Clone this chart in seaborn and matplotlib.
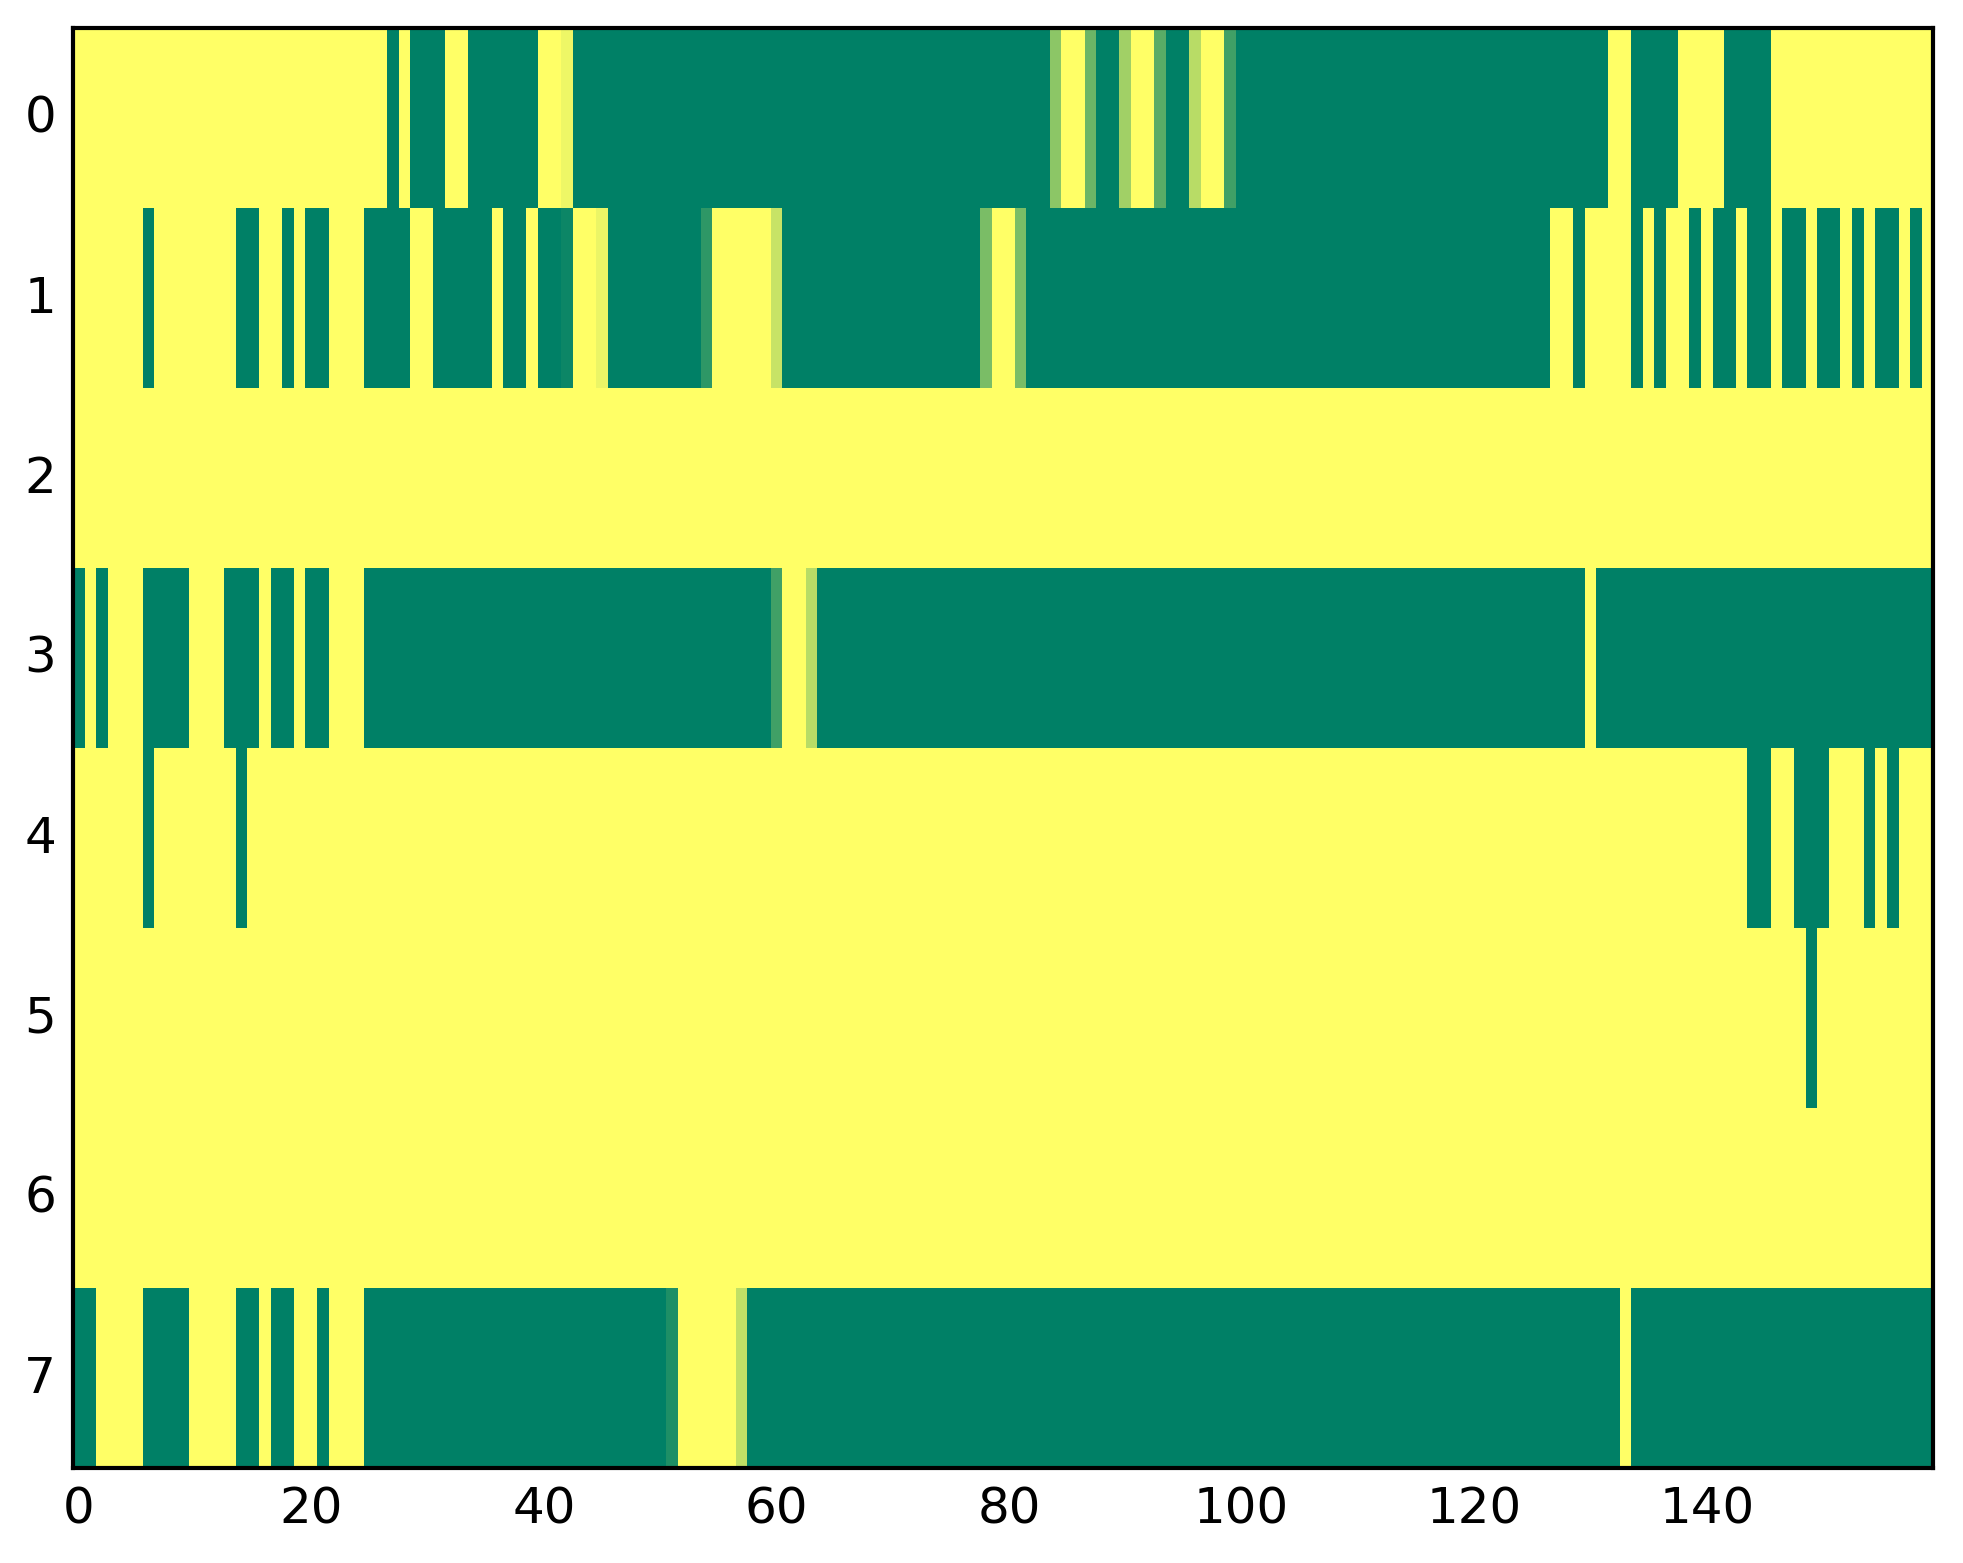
import pandas as pd
import seaborn as sns
import matplotlib.pyplot as plt

# values, 160 columns per row (0 = green, 1 = yellow)
row_0 = [1, 1, 1, 1, 1, 1, 1, 1, 1, 1, 1, 1, 1, 1, 1, 1, 1, 1, 1, 1,
         1, 1, 1, 1, 1, 1, 1, 0, 1, 0, 0, 0, 1, 1, 0, 0, 0, 0, 0, 0,
         1, 1, .93, 0, 0, 0, 0, 0, 0, 0, 0, 0, 0, 0, 0, 0, 0, 0, 0, 0,
         0, 0, 0, 0, 0, 0, 0, 0, 0, 0, 0, 0, 0, 0, 0, 0, 0, 0, 0, 0,
         0, 0, 0, 0, .55, 1, 1, .42, 0, 0, .63, 1, 1, .35, 0, 0, .72, 1, 1, .25,
         0, 0, 0, 0, 0, 0, 0, 0, 0, 0, 0, 0, 0, 0, 0, 0, 0, 0, 0, 0,
         0, 0, 0, 0, 0, 0, 0, 0, 0, 0, 0, 0, 1, 1, 0, 0, 0, 0, 1, 1,
         1, 1, 0, 0, 0, 0, 1, 1, 1, 1, 1, 1, 1, 1, 1, 1, 1, 1, 1, 1]

row_1 = [1, 1, 1, 1, 1, 1, 0, 1, 1, 1, 1, 1, 1, 1, 0, 0, 1, 1, 0, 1,
         0, 0, 1, 1, 1, 0, 0, 0, 0, 1, 1, 0, 0, 0, 0, 0, 1, 0, 0, 1,
         0, 0, .05, 1, 1, .92, 0, 0, 0, 0, 0, 0, 0, 0, .18, 1, 1, 1, 1, 1,
         .78, 0, 0, 0, 0, 0, 0, 0, 0, 0, 0, 0, 0, 0, 0, 0, 0, 0, .48, 1,
         1, .48, 0, 0, 0, 0, 0, 0, 0, 0, 0, 0, 0, 0, 0, 0, 0, 0, 0, 0,
         0, 0, 0, 0, 0, 0, 0, 0, 0, 0, 0, 0, 0, 0, 0, 0, 0, 0, 0, 0,
         0, 0, 0, 0, 0, 0, 0, 1, 1, 0, 1, 1, 1, 1, 0, 1, 0, 1, 1, 0,
         1, 0, 0, 1, 0, 0, 1, 0, 0, 1, 0, 0, 1, 0, 1, 0, 0, 1, 0, 1]

row_2 = [1, 1, 1, 1, 1, 1, 1, 1, 1, 1, 1, 1, 1, 1, 1, 1, 1, 1, 1, 1,
         1, 1, 1, 1, 1, 1, 1, 1, 1, 1, 1, 1, 1, 1, 1, 1, 1, 1, 1, 1,
         1, 1, 1, 1, 1, 1, 1, 1, 1, 1, 1, 1, 1, 1, 1, 1, 1, 1, 1, 1,
         1, 1, 1, 1, 1, 1, 1, 1, 1, 1, 1, 1, 1, 1, 1, 1, 1, 1, 1, 1,
         1, 1, 1, 1, 1, 1, 1, 1, 1, 1, 1, 1, 1, 1, 1, 1, 1, 1, 1, 1,
         1, 1, 1, 1, 1, 1, 1, 1, 1, 1, 1, 1, 1, 1, 1, 1, 1, 1, 1, 1,
         1, 1, 1, 1, 1, 1, 1, 1, 1, 1, 1, 1, 1, 1, 1, 1, 1, 1, 1, 1,
         1, 1, 1, 1, 1, 1, 1, 1, 1, 1, 1, 1, 1, 1, 1, 1, 1, 1, 1, 1]

row_3 = [0, 1, 0, 1, 1, 1, 0, 0, 0, 0, 1, 1, 1, 0, 0, 0, 1, 0, 0, 1,
         0, 0, 1, 1, 1, 0, 0, 0, 0, 0, 0, 0, 0, 0, 0, 0, 0, 0, 0, 0,
         0, 0, 0, 0, 0, 0, 0, 0, 0, 0, 0, 0, 0, 0, 0, 0, 0, 0, 0, 0,
         .25, 1, 1, .72, 0, 0, 0, 0, 0, 0, 0, 0, 0, 0, 0, 0, 0, 0, 0, 0,
         0, 0, 0, 0, 0, 0, 0, 0, 0, 0, 0, 0, 0, 0, 0, 0, 0, 0, 0, 0,
         0, 0, 0, 0, 0, 0, 0, 0, 0, 0, 0, 0, 0, 0, 0, 0, 0, 0, 0, 0,
         0, 0, 0, 0, 0, 0, 0, 0, 0, 0, 1, 0, 0, 0, 0, 0, 0, 0, 0, 0,
         0, 0, 0, 0, 0, 0, 0, 0, 0, 0, 0, 0, 0, 0, 0, 0, 0, 0, 0, 0]

row_4 = [1, 1, 1, 1, 1, 1, 0, 1, 1, 1, 1, 1, 1, 1, 0, 1, 1, 1, 1, 1,
         1, 1, 1, 1, 1, 1, 1, 1, 1, 1, 1, 1, 1, 1, 1, 1, 1, 1, 1, 1,
         1, 1, 1, 1, 1, 1, 1, 1, 1, 1, 1, 1, 1, 1, 1, 1, 1, 1, 1, 1,
         1, 1, 1, 1, 1, 1, 1, 1, 1, 1, 1, 1, 1, 1, 1, 1, 1, 1, 1, 1,
         1, 1, 1, 1, 1, 1, 1, 1, 1, 1, 1, 1, 1, 1, 1, 1, 1, 1, 1, 1,
         1, 1, 1, 1, 1, 1, 1, 1, 1, 1, 1, 1, 1, 1, 1, 1, 1, 1, 1, 1,
         1, 1, 1, 1, 1, 1, 1, 1, 1, 1, 1, 1, 1, 1, 1, 1, 1, 1, 1, 1,
         1, 1, 1, 1, 0, 0, 1, 1, 0, 0, 0, 1, 1, 1, 0, 1, 0, 1, 1, 1]

row_5 = [1, 1, 1, 1, 1, 1, 1, 1, 1, 1, 1, 1, 1, 1, 1, 1, 1, 1, 1, 1,
         1, 1, 1, 1, 1, 1, 1, 1, 1, 1, 1, 1, 1, 1, 1, 1, 1, 1, 1, 1,
         1, 1, 1, 1, 1, 1, 1, 1, 1, 1, 1, 1, 1, 1, 1, 1, 1, 1, 1, 1,
         1, 1, 1, 1, 1, 1, 1, 1, 1, 1, 1, 1, 1, 1, 1, 1, 1, 1, 1, 1,
         1, 1, 1, 1, 1, 1, 1, 1, 1, 1, 1, 1, 1, 1, 1, 1, 1, 1, 1, 1,
         1, 1, 1, 1, 1, 1, 1, 1, 1, 1, 1, 1, 1, 1, 1, 1, 1, 1, 1, 1,
         1, 1, 1, 1, 1, 1, 1, 1, 1, 1, 1, 1, 1, 1, 1, 1, 1, 1, 1, 1,
         1, 1, 1, 1, 1, 1, 1, 1, 1, 0, 1, 1, 1, 1, 1, 1, 1, 1, 1, 1]

row_6 = [1, 1, 1, 1, 1, 1, 1, 1, 1, 1, 1, 1, 1, 1, 1, 1, 1, 1, 1, 1,
         1, 1, 1, 1, 1, 1, 1, 1, 1, 1, 1, 1, 1, 1, 1, 1, 1, 1, 1, 1,
         1, 1, 1, 1, 1, 1, 1, 1, 1, 1, 1, 1, 1, 1, 1, 1, 1, 1, 1, 1,
         1, 1, 1, 1, 1, 1, 1, 1, 1, 1, 1, 1, 1, 1, 1, 1, 1, 1, 1, 1,
         1, 1, 1, 1, 1, 1, 1, 1, 1, 1, 1, 1, 1, 1, 1, 1, 1, 1, 1, 1,
         1, 1, 1, 1, 1, 1, 1, 1, 1, 1, 1, 1, 1, 1, 1, 1, 1, 1, 1, 1,
         1, 1, 1, 1, 1, 1, 1, 1, 1, 1, 1, 1, 1, 1, 1, 1, 1, 1, 1, 1,
         1, 1, 1, 1, 1, 1, 1, 1, 1, 1, 1, 1, 1, 1, 1, 1, 1, 1, 1, 1]

row_7 = [0, 0, 1, 1, 1, 1, 0, 0, 0, 0, 1, 1, 1, 1, 0, 0, 1, 0, 0, 1,
         1, 0, 1, 1, 1, 0, 0, 0, 0, 0, 0, 0, 0, 0, 0, 0, 0, 0, 0, 0,
         0, 0, 0, 0, 0, 0, 0, 0, 0, 0, 0, .12, 1, 1, 1, 1, 1, .75, 0, 0,
         0, 0, 0, 0, 0, 0, 0, 0, 0, 0, 0, 0, 0, 0, 0, 0, 0, 0, 0, 0,
         0, 0, 0, 0, 0, 0, 0, 0, 0, 0, 0, 0, 0, 0, 0, 0, 0, 0, 0, 0,
         0, 0, 0, 0, 0, 0, 0, 0, 0, 0, 0, 0, 0, 0, 0, 0, 0, 0, 0, 0,
         0, 0, 0, 0, 0, 0, 0, 0, 0, 0, 0, 0, 0, 1, 0, 0, 0, 0, 0, 0,
         0, 0, 0, 0, 0, 0, 0, 0, 0, 0, 0, 0, 0, 0, 0, 0, 0, 0, 0, 0]

x_ticks = [0, 20, 40, 60, 80, 100, 120, 140]
y_ticks = [0, 1, 2, 3, 4, 5, 6, 7]

grid = pd.DataFrame([row_0, row_1, row_2, row_3, row_4, row_5, row_6, row_7])

sns.set_style('white')
plt.rcParams['font.family'] = ['DejaVu Sans']

fig = plt.figure(figsize=(1963 / 300, 1564 / 300), dpi=300)
ax = fig.add_axes([0.03714, 0.06106, 0.94783, 0.9204])

sns.heatmap(grid, cmap='summer', vmin=0, vmax=1, cbar=False, ax=ax)

# old matplotlib look: ticks inside on all four sides, black frame
ax.set_xticks([t + 0.5 for t in x_ticks])
ax.set_xticklabels(x_ticks, rotation=0)
ax.set_yticks([t + 0.5 for t in y_ticks])
ax.set_yticklabels(y_ticks, rotation=0)
for spine in ax.spines.values():
    spine.set_visible(True)
    spine.set_linewidth(1.0)
    spine.set_color('black')
    spine.set_zorder(5)
ax.tick_params(which='major', direction='in', length=4, width=0.5,
               bottom=True, left=True, top=True, right=True,
               labelsize=12, pad=4, color='black', labelcolor='black')

fig.savefig('out.png', dpi=300)
